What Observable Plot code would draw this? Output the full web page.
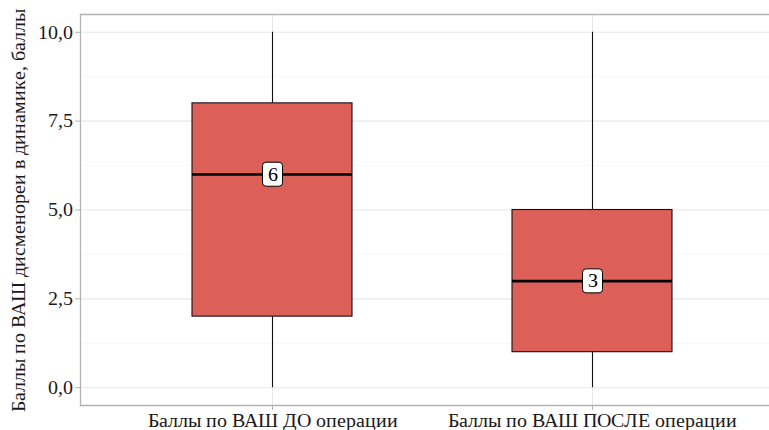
<!DOCTYPE html>
<html><head><meta charset="utf-8">
<script src="https://cdn.jsdelivr.net/npm/d3@7"></script>
<script src="https://cdn.jsdelivr.net/npm/@observablehq/plot@0.6"></script>
<style>
@font-face{font-family:"SerifLocal";src:local("Liberation Serif"),local("LiberationSerif"),local("LiberationSerif-Regular"),local("Times New Roman"),local("DejaVu Serif"),local("DejaVuSerif");}
body{margin:0;background:#fff}
svg{display:block}
</style>
</head><body><div id="chart"></div>
<script>
const groups = ["Баллы по ВАШ ДО операции", "Баллы по ВАШ ПОСЛЕ операции"];
const minV = [0, 0];
const q1V = [2, 1];
const medV = [6, 3];
const q3V = [8, 5];
const maxV = [10, 10];
const yTicks = [0, 2.5, 5, 7.5, 10];
const yMinor = [1.25, 3.75, 6.25, 8.75];
const yTitle = "Баллы по ВАШ дисменореи в динамике, баллы";

const FONT = "SerifLocal, 'Liberation Serif', 'Times New Roman', 'DejaVu Serif', serif";
const FS = 19.6;
const data = groups.map((g, i) => ({g, min: minV[i], q1: q1V[i], med: medV[i], q3: q3V[i], max: maxV[i]}));
const fmt = d => d.toFixed(1).replace(".", ",");

const chart = Plot.plot({
  width: 769, height: 430,
  marginLeft: 80, marginRight: 0, marginTop: 14, marginBottom: 25,
  style: {fontSize: FS + "px", fontFamily: FONT, color: "#1a1a1a", background: "#fff"},
  x: {type: "band", domain: groups, range: [80, 784], paddingInner: 0.5, paddingOuter: 0.35, label: null},
  y: {domain: [-0.5, 10.5], label: null},
  marks: [
    Plot.ruleY(yMinor, {stroke: "#f3f3f3", strokeWidth: 0.7}),
    Plot.ruleY(yTicks, {stroke: "#e8e8e8", strokeWidth: 1.1}),
    Plot.ruleX(groups, {x: d => d, stroke: "#e8e8e8", strokeWidth: 1.1}),
    Plot.frame({anchor: "left", stroke: "#b3b3b3", strokeWidth: 1.3}),
    Plot.frame({anchor: "top", stroke: "#b3b3b3", strokeWidth: 1.3}),
    Plot.frame({anchor: "bottom", stroke: "#b3b3b3", strokeWidth: 1.3}),
    Plot.ruleX(data, {x: "g", y1: "min", y2: "q1", stroke: "#111", strokeWidth: 1.1}),
    Plot.ruleX(data, {x: "g", y1: "q3", y2: "max", stroke: "#111", strokeWidth: 1.1}),
    Plot.barY(data, {x: "g", y1: "q1", y2: "q3", fill: "#dc5f58", stroke: "#111", strokeWidth: 1.1}),
    Plot.tickY(data, {x: "g", y: "med", stroke: "#000", strokeWidth: 2.6}),
    Plot.text(data, {x: "g", y: "med", text: d => String(d.med), fill: "#000", fontSize: FS, fontFamily: FONT, ariaDescription: "medlabel"}),
    Plot.axisY({ticks: yTicks, tickFormat: fmt, tickSize: 5, tickPadding: 3, stroke: "#b3b3b3", fill: "#1a1a1a", label: null, fontSize: FS, fontFamily: FONT}),
    Plot.axisX({tickSize: 5, tickPadding: 3, stroke: "#b3b3b3", fill: "#1a1a1a", label: null, fontSize: FS, fontFamily: FONT}),
    Plot.text([yTitle], {frameAnchor: "left", dx: -62, rotate: -90, textAnchor: "middle", fill: "#1a1a1a", fontSize: FS, fontFamily: FONT})
  ]
});
document.getElementById("chart").appendChild(chart);
d3.select(chart).selectAll("text").style("font-family", FONT);

// rounded white label boxes behind the median labels
d3.select(chart).selectAll('g[aria-description="medlabel"] text').each(function () {
  const bb = this.getBBox();
  const t = this.getAttribute("transform");
  const cy = bb.y + bb.height / 2;
  const r = d3.select(this.parentNode).insert("rect", () => this)
    .attr("x", bb.x - 5).attr("y", cy - 12)
    .attr("width", bb.width + 10).attr("height", 24)
    .attr("rx", 3.5).attr("fill", "#fff").attr("stroke", "#000").attr("stroke-width", 1);
  if (t) r.attr("transform", t);
});
</script>
</body></html>
